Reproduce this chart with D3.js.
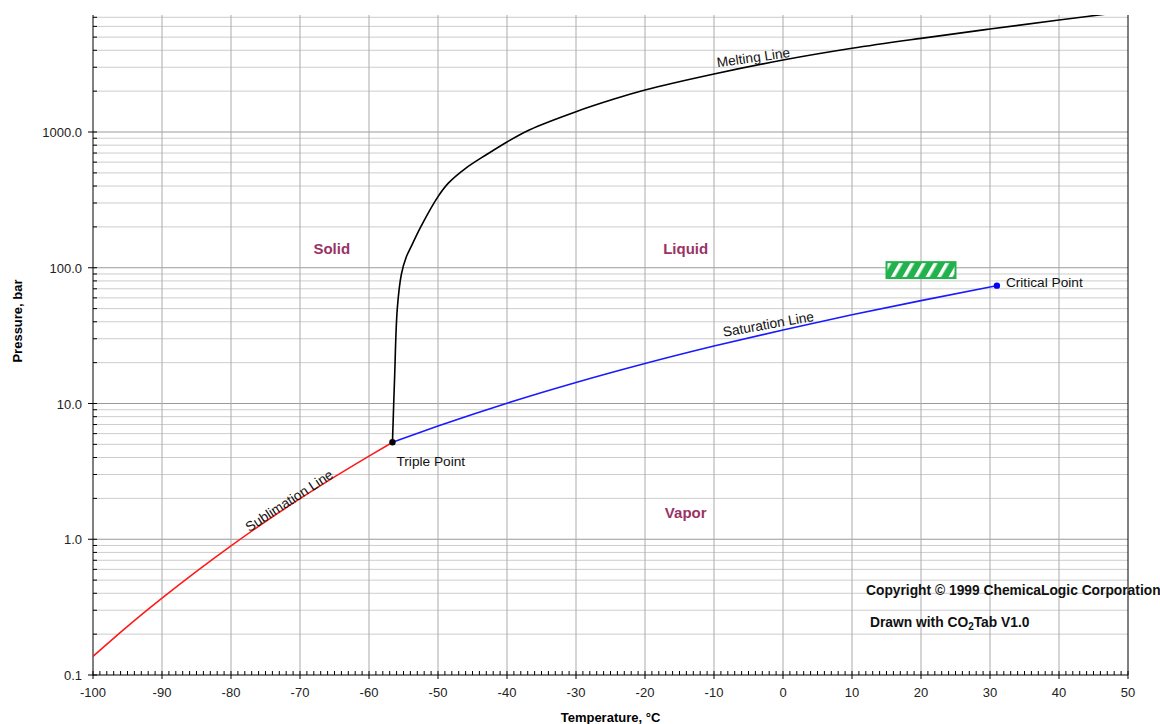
<!DOCTYPE html>
<html><head><meta charset="utf-8">
<script src="https://cdn.jsdelivr.net/npm/d3@7"></script>
<style>body{margin:0;background:#fff}svg{display:block;font-family:"Liberation Sans",Arial,sans-serif}</style>
</head><body><svg id="c" width="1160" height="724"></svg>
<script>
// ---- data ----
const sublimation = [[-100,0.137],[-95,0.228],[-90,0.368],[-85,0.58],[-80,0.894],[-75,1.35],[-70,1.99],[-65,2.88],[-60,4.10],[-56.6,5.18]];
const saturation = [[-56.6,5.18],[-50,6.82],[-40,10.05],[-30,14.28],[-20,19.70],[-10,26.49],[0,34.85],[10,45.02],[20,57.29],[30,72.14],[31.0,73.8]];
const melting = [[-56.6,5.18],[-56.3,15],[-55.9,50],[-55.3,90],[-54.6,120],[-53.7,150],[-52.5,200],[-50,334],[-48.5,420],[-46,540],[-43,680],[-40,845],[-36.7,1040],[-30,1412],[-24.6,1741],[-20,2039],[-10,2675],[0,3390],[10,4137],[20,4898],[30,5737],[40,6683],[50,7750]];
const triplePoint = [-56.6,5.18];
const criticalPoint = [31.0,73.8];
const xTicks = [-100,-90,-80,-70,-60,-50,-40,-30,-20,-10,0,10,20,30,40,50];
const yTicks = [0.1,1,10,100,1000];
const yTickLabels = ["0.1","1.0","10.0","100.0","1000.0"];
const regions = [{name:"Solid",t:-65.4,p:126},{name:"Liquid",t:-14.1,p:126},{name:"Vapor",t:-14.1,p:1.43}];
const hatchBox = {t0:15,t1:25,p0:84,p1:110};

// ---- scales ----
const L=93,R=1128,T=15,B=675;
const x=d3.scaleLinear().domain([-100,50]).range([L,R]);
const y=d3.scaleLog().domain([0.1,7278]).range([B,T]);
const svg=d3.select("#c");

const defs=svg.append("defs");
defs.append("clipPath").attr("id","clip").append("rect").attr("x",L).attr("y",T).attr("width",R-L).attr("height",B-T);
const pat=defs.append("pattern").attr("id","hatch").attr("patternUnits","userSpaceOnUse").attr("width",10).attr("height",10).attr("patternTransform","rotate(30)");
pat.append("rect").attr("width",10).attr("height",10).attr("fill","#22b14c");
pat.append("rect").attr("x",0).attr("width",3.5).attr("height",10).attr("fill","#fff");

// grid
const minor=[];
for(let e=-1;e<4;e++)for(let m=2;m<=9;m++){const v=m*Math.pow(10,e); if(v<=7278)minor.push(v);}
svg.append("g").selectAll("line").data(minor).join("line")
  .attr("x1",L).attr("x2",R).attr("y1",d=>y(d)).attr("y2",d=>y(d))
  .attr("stroke","#cdcdcd").attr("stroke-width",1);
svg.append("g").selectAll("line").data(yTicks.slice(1)).join("line")
  .attr("x1",L).attr("x2",R).attr("y1",d=>y(d)).attr("y2",d=>y(d))
  .attr("stroke","#9a9a9a").attr("stroke-width",1);
svg.append("g").selectAll("line").data(xTicks.slice(1,-1)).join("line")
  .attr("x1",d=>x(d)).attr("x2",d=>x(d)).attr("y1",T).attr("y2",B)
  .attr("stroke","#ababab").attr("stroke-width",1);

// axes
svg.append("line").attr("x1",L).attr("x2",L).attr("y1",T).attr("y2",B).attr("stroke","#000");
svg.append("line").attr("x1",R).attr("x2",R).attr("y1",T).attr("y2",B).attr("stroke","#000");
svg.append("line").attr("x1",L).attr("x2",R).attr("y1",B).attr("y2",B).attr("stroke","#000");
const xMinor=d3.range(-99,50,1).filter(v=>v%10!==0);
svg.append("g").selectAll("line").data(xMinor).join("line")
  .attr("x1",d=>x(d)).attr("x2",d=>x(d)).attr("y1",B).attr("y2",B-4).attr("stroke","#000");
svg.append("g").selectAll("line").data(xTicks).join("line")
  .attr("x1",d=>x(d)).attr("x2",d=>x(d)).attr("y1",B-4).attr("y2",B+4).attr("stroke","#000");
svg.append("g").selectAll("text").data(xTicks).join("text")
  .attr("x",d=>x(d)).attr("y",B+22).attr("text-anchor","middle").attr("font-size",13).attr("fill","#222").text(d=>d);
svg.append("g").selectAll("line").data(minor).join("line")
  .attr("x1",L).attr("x2",L+4).attr("y1",d=>y(d)).attr("y2",d=>y(d)).attr("stroke","#000");
svg.append("g").selectAll("line").data(yTicks).join("line")
  .attr("x1",L-5).attr("x2",L+4).attr("y1",d=>y(d)).attr("y2",d=>y(d)).attr("stroke","#000");
svg.append("g").selectAll("text").data(yTicks).join("text")
  .attr("x",L-11).attr("y",d=>y(d)+5).attr("text-anchor","end").attr("font-size",13).attr("fill","#222")
  .text((d,i)=>yTickLabels[i]);

// axis titles
svg.append("text").attr("x",x(-25)).attr("y",B+47).attr("text-anchor","middle").attr("font-size",13).attr("font-weight","bold").text("Temperature, °C");
svg.append("text").attr("transform","translate(22,321) rotate(-90)").attr("text-anchor","middle").attr("font-size",13).attr("font-weight","bold").text("Pressure, bar");

// curves
const line=d3.line().x(d=>x(d[0])).y(d=>y(d[1])).curve(d3.curveMonotoneX);
const g=svg.append("g").attr("clip-path","url(#clip)");
g.append("path").datum(sublimation).attr("d",line).attr("fill","none").attr("stroke","#ff1a1a").attr("stroke-width",1.6);
g.append("path").datum(saturation).attr("d",line).attr("fill","none").attr("stroke","#1a1aff").attr("stroke-width",1.6);
g.append("path").datum(melting).attr("d",d3.line().x(d=>x(d[0])).y(d=>y(d[1])).curve(d3.curveCatmullRom.alpha(0.5))).attr("fill","none").attr("stroke","#000").attr("stroke-width",1.6);

// points
svg.append("circle").attr("cx",x(triplePoint[0])).attr("cy",y(triplePoint[1])).attr("r",3.2).attr("fill","#000");
svg.append("circle").attr("cx",x(criticalPoint[0])).attr("cy",y(criticalPoint[1])).attr("r",3.2).attr("fill","#0000ff");
svg.append("text").attr("x",x(triplePoint[0])+4).attr("y",y(triplePoint[1])+24).attr("font-size",13.7).attr("fill","#111").text("Triple Point");
svg.append("text").attr("x",x(criticalPoint[0])+9).attr("y",y(criticalPoint[1])+1).attr("font-size",13.7).attr("fill","#111").text("Critical Point");

// hatched box
svg.append("rect").attr("x",x(hatchBox.t0)).attr("y",y(hatchBox.p1)).attr("width",x(hatchBox.t1)-x(hatchBox.t0)).attr("height",y(hatchBox.p0)-y(hatchBox.p1))
  .attr("fill","url(#hatch)").attr("stroke","#22b14c").attr("stroke-width",2);

// curve labels
function rotLabel(t,p,ang,txt){
  svg.append("text").attr("transform",`translate(${x(t)},${y(p)}) rotate(${ang})`).attr("text-anchor","middle").attr("font-size",13.7).attr("fill","#111").text(txt);
}
rotLabel(-4.2,3270,-8,"Melting Line");
rotLabel(-2.0,35.5,-10,"Saturation Line");
rotLabel(-71.2,1.8,-33,"Sublimation Line");

// region labels
svg.append("g").selectAll("text").data(regions).join("text")
  .attr("x",d=>x(d.t)).attr("y",d=>y(d.p)).attr("text-anchor","middle").attr("font-size",15).attr("font-weight","bold").attr("fill","#993366").text(d=>d.name);

// copyright
svg.append("text").attr("x",866).attr("y",595).attr("font-size",13.8).attr("font-weight","bold").attr("fill","#111").text("Copyright © 1999 ChemicaLogic Corporation");
const dr=svg.append("text").attr("x",870).attr("y",627).attr("font-size",13.8).attr("font-weight","bold").attr("fill","#111");
dr.append("tspan").text("Drawn with CO");
dr.append("tspan").attr("font-size",10).attr("dy",3).text("2");
dr.append("tspan").attr("dy",-3).text("Tab V1.0");
</script></body></html>
